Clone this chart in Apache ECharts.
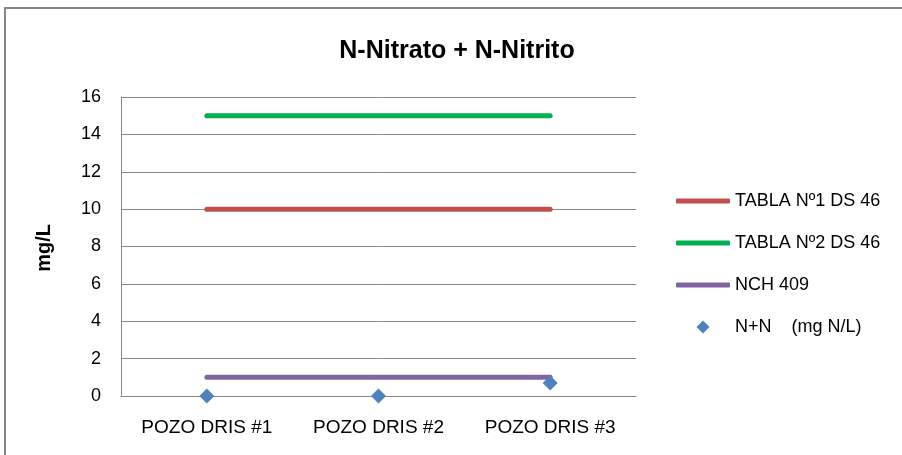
<!DOCTYPE html>
<html>
<head>
<meta charset="utf-8">
<script src="https://cdn.jsdelivr.net/npm/echarts@6/dist/echarts.min.js"></script>
<style>
  html, body { margin: 0; padding: 0; background: #fff; }
  #main { width: 902px; height: 455px; }
</style>
</head>
<body>
<div id="main"></div>
<script>
// categorias del eje x
const categories = ['POZO DRIS #1', 'POZO DRIS #2', 'POZO DRIS #3'];
// limites normativos (mg/L)
const tabla1 = [10, 10, 10];
const tabla2 = [15, 15, 15];
const nch409 = [1, 1, 1];
// valores medidos N+N
const nMedido = [0, 0, 0.7];
const yTicks = [0, 2, 4, 6, 8, 10, 12, 14, 16];

const fontFam = "'Liberation Sans', Arial, sans-serif";

let chart = echarts.init(document.getElementById('main'));

function lineSerie(name, data, color) {
  return {
    name: name,
    type: 'line',
    data: data,
    symbol: 'none',
    lineStyle: { color: color, width: 5, cap: 'round' },
    itemStyle: { color: color },
    z: 3
  };
}

let option = {
  animation: false,
  textStyle: { fontFamily: fontFam },
  title: {
    text: 'N-Nitrato + N-Nitrito',
    left: 452,
    top: 34,
    textAlign: 'center',
    textStyle: { fontSize: 25, fontWeight: 'bold', color: '#000', fontFamily: fontFam }
  },
  graphic: [
    { // borde exterior del grafico
      type: 'rect',
      shape: { x: 5, y: 8, width: 1000, height: 1000 },
      style: { fill: 'none', stroke: '#878787', lineWidth: 2 },
      silent: true
    },
    {
      type: 'text',
      left: 34,
      top: 224,
      rotation: Math.PI / 2,
      style: { text: 'mg/L', font: 'bold 20px ' + fontFam, fill: '#000' }
    }
  ],
  legend: [
    { // leyenda de las lineas
      orient: 'vertical',
      left: 676,
      top: 192,
      padding: 0,
      icon: 'roundRect',
      itemWidth: 54,
      itemHeight: 5,
      itemGap: 24,
      textStyle: { fontSize: 18, color: '#000', fontFamily: fontFam },
      data: ['TABLA Nº1 DS 46', 'TABLA Nº2 DS 46', 'NCH 409']
    },
    { // leyenda del punto medido (rombo centrado en la caja)
      orient: 'vertical',
      left: 676,
      top: 318,
      padding: 0,
      icon: 'path://M0,6.5 M54,6.5 M27,0 L33.5,6.5 L27,13 L20.5,6.5 Z',
      itemWidth: 54,
      itemHeight: 13,
      textStyle: { fontSize: 18, color: '#000', fontFamily: fontFam },
      data: ['N+N    (mg N/L)']
    }
  ],
  grid: { left: 121, top: 97, width: 515, height: 299 },
  xAxis: {
    type: 'category',
    data: categories,
    axisLine: { lineStyle: { color: '#878787', width: 1 } },
    axisTick: { show: false },
    axisLabel: { fontSize: 19, color: '#000', margin: 22 }
  },
  yAxis: {
    type: 'value',
    min: yTicks[0],
    max: yTicks[yTicks.length - 1],
    interval: 2,
    axisLine: { show: true, lineStyle: { color: '#878787', width: 1 } },
    axisTick: { show: false },
    splitLine: { lineStyle: { color: '#878787', width: 1 } },
    axisLabel: { fontSize: 18, color: '#000', margin: 20 }
  },
  series: [
    lineSerie('TABLA Nº1 DS 46', tabla1, '#C0504D'),
    lineSerie('TABLA Nº2 DS 46', tabla2, '#00B050'),
    lineSerie('NCH 409', nch409, '#8064A2'),
    {
      name: 'N+N    (mg N/L)',
      type: 'scatter',
      data: nMedido,
      symbol: 'diamond',
      symbolSize: 15,
      itemStyle: { color: '#4F81BD', opacity: 1 },
      z: 4
    }
  ]
};

chart.setOption(option);
</script>
</body>
</html>
